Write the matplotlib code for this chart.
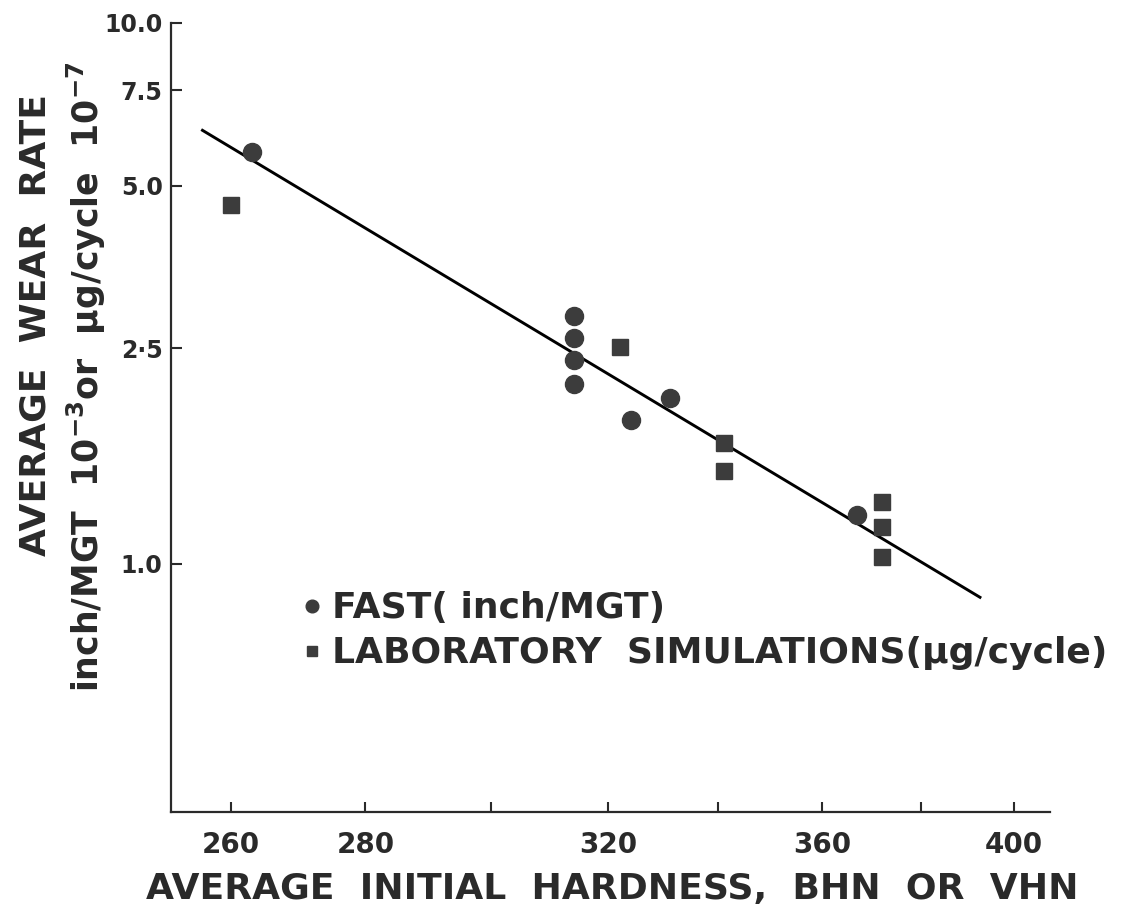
import matplotlib
matplotlib.use("Agg")
import matplotlib.pyplot as plt
from matplotlib.ticker import FixedLocator, FixedFormatter, NullLocator

# FAST (inch/MGT) points
fast_hardness = [263, 314, 314, 314, 314, 324, 331, 367]
fast_rate = [5.76, 2.87, 2.61, 2.38, 2.15, 1.84, 2.02, 1.23]

# laboratory simulation points (ug/cycle)
lab_hardness = [260, 322, 341, 341, 372, 372, 372]
lab_rate = [4.60, 2.52, 1.67, 1.48, 1.30, 1.17, 1.03]

# fitted line end points
fit_hardness = [256, 392.6]
fit_rate = [6.33, 0.866]

x_ticks = [260, 280, 300, 320, 340, 360, 380, 400]
x_labels = ["260", "280", "", "320", "", "360", "", "400"]
y_ticks = [1.0, 2.5, 5.0, 7.5, 10.0]
y_labels = ["1.0", "2·5", "5.0", "7.5", "10.0"]

plt.rcParams["font.family"] = ["DejaVu Sans"]
plt.rcParams["font.weight"] = "bold"
plt.rcParams["mathtext.fontset"] = "dejavusans"
plt.rcParams["mathtext.default"] = "bf"

ink = "#2a2a2a"
fig = plt.figure(figsize=(11.21, 9.22), dpi=100)
ax = fig.add_axes([0.1525, 0.1193, 0.7841, 0.8558])

ax.plot(fit_hardness, fit_rate, color="black", lw=2.1, zorder=2)
ax.plot(fast_hardness, fast_rate, "o", ms=13, color="#3c3c3c", zorder=3,
        label="FAST( inch/MGT)")
ax.plot(lab_hardness, lab_rate, "s", ms=11, color="#3c3c3c", zorder=3,
        label="LABORATORY  SIMULATIONS(µg/cycle)")

ax.set_xscale("log")
ax.set_yscale("log")
ax.set_xlim(251.6, 408)
ax.set_ylim(0.347, 10.0)

ax.xaxis.set_major_locator(FixedLocator(x_ticks))
ax.xaxis.set_major_formatter(FixedFormatter(x_labels))
ax.xaxis.set_minor_locator(NullLocator())
ax.yaxis.set_major_locator(FixedLocator(y_ticks))
ax.yaxis.set_major_formatter(FixedFormatter(y_labels))
ax.yaxis.set_minor_locator(NullLocator())

for s in ["top", "right"]:
    ax.spines[s].set_visible(False)
for s in ["left", "bottom"]:
    ax.spines[s].set_linewidth(1.6)
    ax.spines[s].set_color(ink)

ax.tick_params(axis="x", direction="in", length=7, width=1.5, pad=14,
               labelsize=20, colors=ink)
ax.tick_params(axis="y", direction="in", length=8, width=1.5, pad=6,
               labelsize=17, colors=ink)

fig.text(0.546, 0.036, "AVERAGE  INITIAL  HARDNESS,  BHN  OR  VHN",
         ha="center", va="center", fontsize=26, color=ink)
fig.text(0.032, 0.6475, "AVERAGE  WEAR  RATE", rotation=90,
         ha="center", va="center", fontsize=26, color=ink)
fig.text(0.077, 0.591,
         r"inch/MGT  10$^{-3}$or  µg/cycle  10$^{-7}$", rotation=90,
         ha="center", va="center", fontsize=25, color=ink)

leg = ax.legend(loc="upper left", bbox_to_anchor=(0.134, 0.298), frameon=False,
                fontsize=26, handlelength=0.5, handletextpad=0.3,
                labelspacing=0.3, markerscale=0.7, borderaxespad=0)
for t in leg.get_texts():
    t.set_color(ink)

fig.savefig("out.png", dpi=100)
